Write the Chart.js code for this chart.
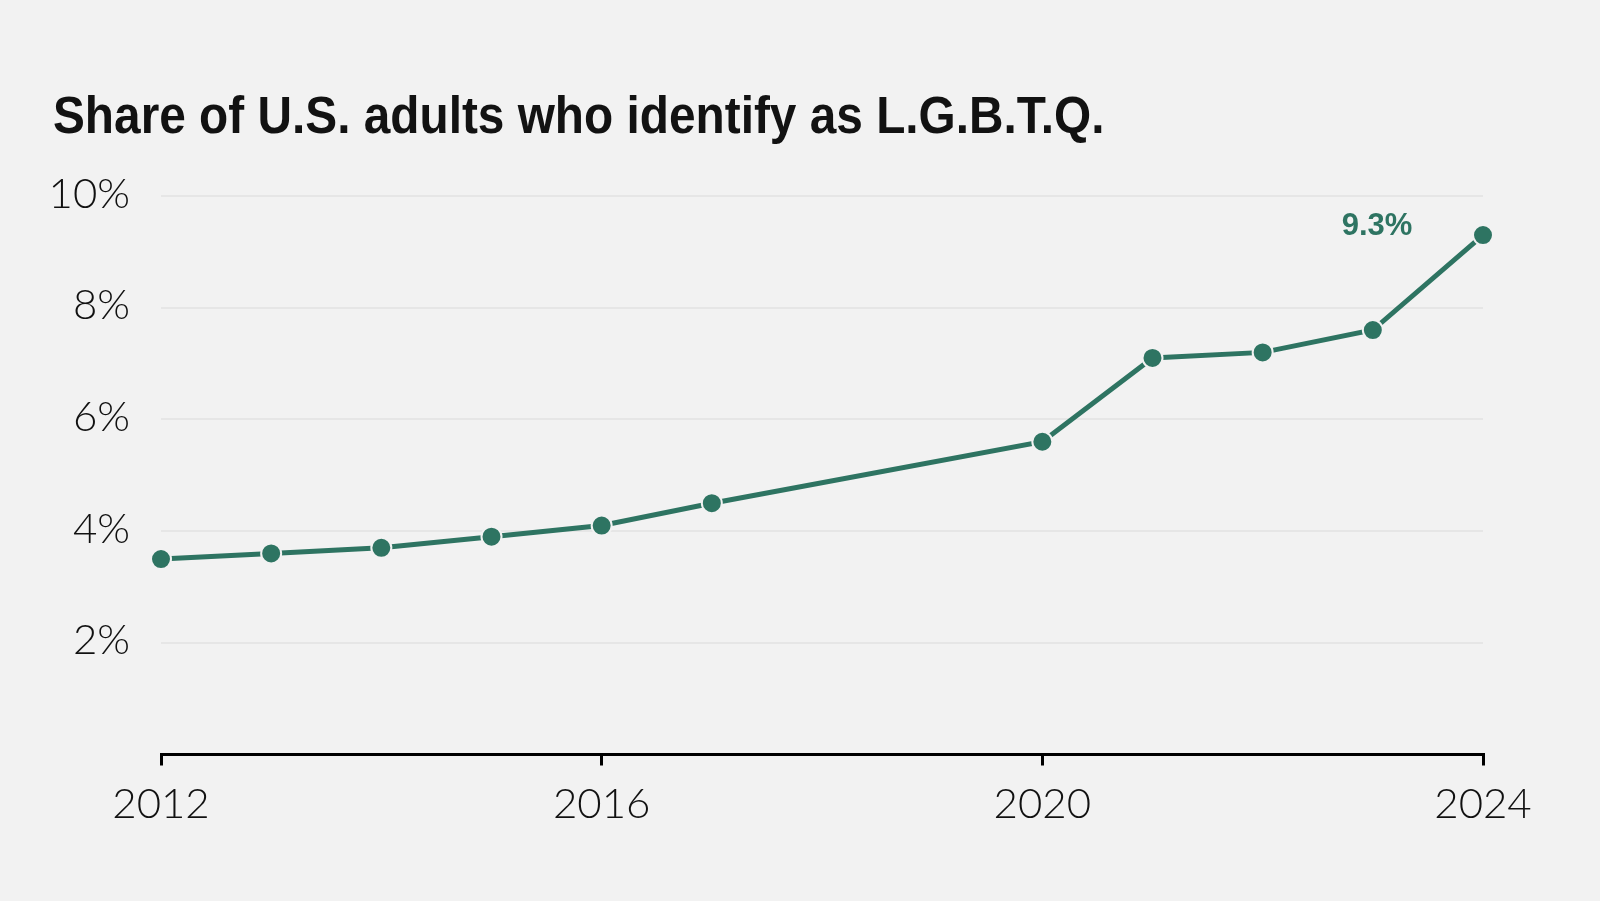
<!DOCTYPE html>
<html>
<head>
<meta charset="utf-8">
<script src="https://cdn.jsdelivr.net/npm/chart.js@4/dist/chart.umd.min.js"></script>
<style>
  html, body { margin: 0; padding: 0; background: #f2f2f2; }
  #wrap { position: relative; width: 1600px; height: 901px; }
  h1 { position: absolute; left: 53px; top: 90px; margin: 0; font-family: "Liberation Sans", Arial, sans-serif; font-weight: 700; font-size: 51px; color: #121212; line-height: 1; white-space: nowrap; transform: scaleX(0.937); transform-origin: left top; }
  canvas { position: absolute; left: 0; top: 0; }
</style>
</head>
<body>
<div id="wrap">
<h1>Share of U.S. adults who identify as L.G.B.T.Q.</h1>
<canvas id="c" width="1600" height="901"></canvas>
</div>
<script>
const years = [2012, 2013, 2014, 2015, 2016, 2017, 2020, 2021, 2022, 2023, 2024];
const shares = [3.5, 3.6, 3.7, 3.9, 4.1, 4.5, 5.6, 7.1, 7.2, 7.6, 9.3];
const xTicks = [2012, 2016, 2020, 2024];
const yTicks = [0, 2, 4, 6, 8, 10];
const endLabel = "9.3%";

const GREEN = '#2e7462';
const BG = '#f2f2f2';

const endLabelPlugin = {
  id: 'endLabel',
  afterDatasetsDraw(chart) {
    const meta = chart.getDatasetMeta(0);
    const last = meta.data[meta.data.length - 1];
    const ctx = chart.ctx;
    ctx.save();
    ctx.font = '700 31px "Liberation Sans", Arial, sans-serif';
    ctx.fillStyle = GREEN;
    ctx.textAlign = 'center';
    ctx.textBaseline = 'middle';
    ctx.fillText(endLabel, last.x - 106, last.y - 9);
    ctx.restore();
  }
};

new Chart(document.getElementById('c'), {
  type: 'line',
  data: {
    datasets: [{
      data: years.map((y, i) => ({ x: y, y: shares[i] })),
      borderColor: GREEN,
      borderWidth: 5,
      pointRadius: 10,
      pointBackgroundColor: GREEN,
      pointBorderColor: BG,
      pointBorderWidth: 2,
      pointHoverRadius: 10,
      tension: 0,
      clip: false
    }]
  },
  options: {
    responsive: false,
    animation: false,
    events: [],
    layout: { padding: { top: 196, right: 117, left: 0, bottom: 0 } },
    plugins: { legend: { display: false }, tooltip: { enabled: false } },
    scales: {
      x: {
        type: 'linear',
        min: 2012, max: 2024,
        afterBuildTicks(scale) { scale.ticks = xTicks.map(v => ({ value: v })); },
        afterFit(scale) { scale.height = 901 - 754.5; },
        border: { display: true, color: '#000', width: 3 },
        grid: { display: true, drawOnChartArea: false, drawTicks: true, tickLength: 11, color: '#000', lineWidth: 3 },
        ticks: {
          padding: 14,
          color: '#111',
          font: { family: 'Lato', size: 42, weight: 300 },
          callback: v => String(v),
          maxRotation: 0
        }
      },
      y: {
        min: 0, max: 10,
        afterBuildTicks(scale) { scale.ticks = yTicks.map(v => ({ value: v })); },
        afterFit(scale) { scale.width = 161; },
        border: { display: false },
        grid: {
          drawTicks: false,
          color: ctx => ctx.tick && ctx.tick.value === 0 ? 'rgba(0,0,0,0)' : '#e6e6e6',
          lineWidth: 2
        },
        ticks: {
          padding: 31,
          labelOffset: -2,
          color: '#111',
          font: { family: 'Lato', size: 42, weight: 300 },
          callback: v => v === 0 ? '' : v + '%'
        }
      }
    }
  },
  plugins: [endLabelPlugin]
});
</script>
</body>
</html>
